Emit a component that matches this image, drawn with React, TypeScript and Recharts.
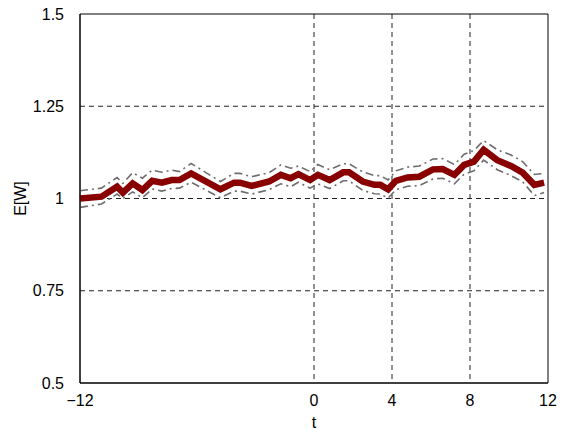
import React from 'react';
import { LineChart, Line, XAxis, YAxis, CartesianGrid, ReferenceArea } from 'recharts';

// time points (t) and the mean with its upper/lower bands
const times = [-12, -10.9, -10.1, -9.8, -9.3, -8.8, -8.3, -7.8, -7.3, -6.9, -6.3, -4.8, -4.1, -3.8, -3.2, -2.3, -1.7, -1.2, -0.8, -0.2, 0.2, 0.8, 1.5, 1.8, 2.5, 3.1, 3.4, 3.8, 4.2, 4.8, 5.4, 6.1, 6.6, 7.2, 7.7, 8.2, 8.7, 9.4, 10.1, 10.7, 11.3, 11.8];
const meanW = [1.0, 1.005, 1.032, 1.016, 1.041, 1.023, 1.048, 1.043, 1.05, 1.05, 1.068, 1.025, 1.043, 1.043, 1.034, 1.046, 1.064, 1.055, 1.066, 1.05, 1.064, 1.05, 1.071, 1.071, 1.046, 1.037, 1.037, 1.025, 1.048, 1.057, 1.059, 1.079, 1.08, 1.064, 1.091, 1.1, 1.132, 1.104, 1.088, 1.07, 1.037, 1.043];
const upperW = [1.021, 1.028, 1.057, 1.041, 1.07, 1.055, 1.077, 1.071, 1.077, 1.073, 1.095, 1.046, 1.068, 1.068, 1.059, 1.07, 1.091, 1.082, 1.088, 1.073, 1.092, 1.078, 1.094, 1.094, 1.072, 1.062, 1.062, 1.05, 1.075, 1.085, 1.088, 1.107, 1.108, 1.092, 1.12, 1.13, 1.157, 1.132, 1.118, 1.1, 1.065, 1.068];
const lowerW = [0.976, 0.985, 1.012, 1.0, 1.018, 1.002, 1.026, 1.02, 1.027, 1.028, 1.044, 1.002, 1.02, 1.02, 1.012, 1.024, 1.04, 1.032, 1.044, 1.028, 1.04, 1.027, 1.048, 1.048, 1.022, 1.013, 1.012, 1.001, 1.024, 1.033, 1.035, 1.053, 1.055, 1.04, 1.066, 1.075, 1.104, 1.078, 1.062, 1.045, 1.008, 1.016];

const xTicks = [-12, 0, 4, 8, 12];
const yTicks = [0.5, 0.75, 1, 1.25, 1.5];

const data = times.map((t, i) => ({ t, mean: meanW[i], upper: upperW[i], lower: lowerW[i] }));

const fmtX = (v: number) => (v < 0 ? '\u2212' + Math.abs(v) : String(v));

const tickStyle = { fill: '#000', fontSize: 16 };

const App = () => {
  return (
    <div style={{ position: 'absolute', left: 0, top: 0, fontFamily: '"Liberation Sans", Arial, Helvetica, sans-serif' }}>
      <LineChart width={561} height={435} data={data} margin={{ top: 14, right: 13, left: 0, bottom: 0 }}>
        <CartesianGrid
          stroke="#222"
          strokeDasharray="5 4"
          horizontalValues={[0.75, 1, 1.25]}
          verticalValues={[0, 4, 8]}
        />
        <XAxis
          dataKey="t"
          type="number"
          domain={[-12, 12]}
          ticks={xTicks}
          tickFormatter={fmtX}
          height={52}
          tickLine={false}
          tickSize={6}
          tickMargin={6}
          stroke="#000"
          tick={tickStyle}
          label={{ value: 't', position: 'insideBottom', offset: 7, fill: '#000', fontSize: 16 }}
        />
        <YAxis
          type="number"
          domain={[0.5, 1.5]}
          ticks={yTicks}
          width={80}
          tickLine={false}
          tickSize={8}
          tickMargin={8}
          stroke="#000"
          tick={tickStyle}
          label={{ value: 'E[W]', angle: -90, position: 'insideLeft', offset: 20, fill: '#000', fontSize: 16, style: { textAnchor: 'middle' } }}
        />
        <ReferenceArea x1={-12} x2={12} y1={0.5} y2={1.5} fill="none" stroke="#000" strokeWidth={1} ifOverflow="visible" />
        <Line type="linear" dataKey="upper" stroke="#6e6e6e" strokeWidth={1.6} strokeDasharray="8 4 2 4" dot={false} isAnimationActive={false} />
        <Line type="linear" dataKey="lower" stroke="#6e6e6e" strokeWidth={1.6} strokeDasharray="8 4 2 4" dot={false} isAnimationActive={false} />
        <Line type="linear" dataKey="mean" stroke="#880000" strokeWidth={6.5} dot={false} isAnimationActive={false} />
      </LineChart>
    </div>
  );
};

export default App;
